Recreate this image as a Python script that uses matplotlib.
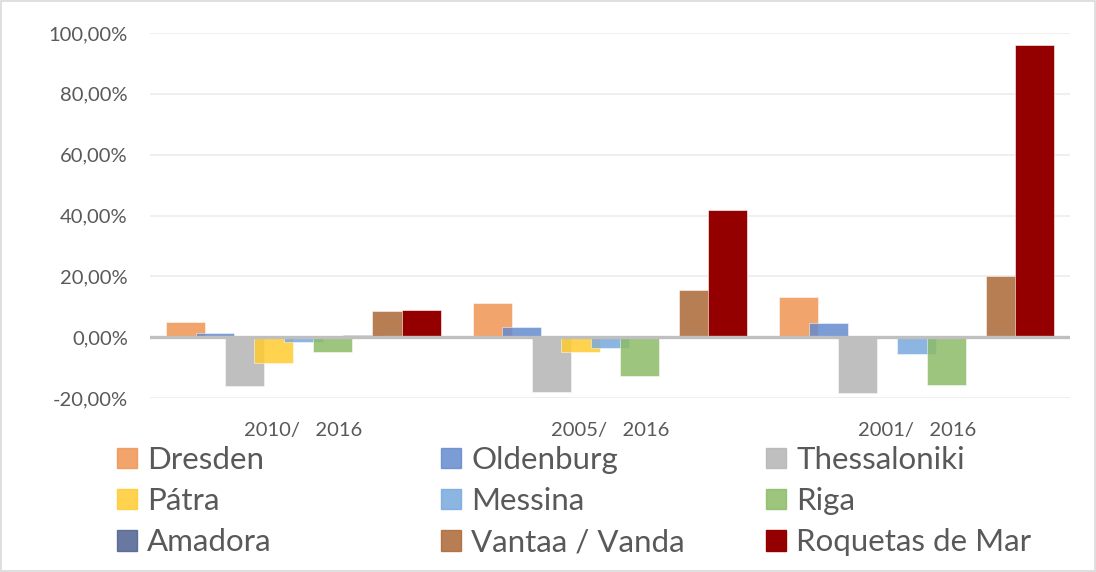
import matplotlib.pyplot as plt
import matplotlib.patches as mpatches
import numpy as np

plt.rcParams['font.family'] = ['Lato', 'DejaVu Sans']

# dane (zmiana w %)
okresy = ['2010/   2016', '2005/   2016', '2001/   2016']
miasta = ['Dresden', 'Oldenburg', 'Thessaloniki', 'Pátra', 'Messina', 'Riga',
          'Amadora', 'Vantaa / Vanda', 'Roquetas de Mar']
dresden = [5.1, 11.3, 13.3]
oldenburg = [1.5, 3.2, 4.7]
thessaloniki = [-16.2, -18.0, -18.4]
patra = [-8.6, -5.0, 0.0]
messina = [-1.7, -3.4, -5.5]
riga = [-4.9, -12.8, -15.7]
amadora = [0.8, 0.0, 0.0]
vantaa = [8.6, 15.6, 20.1]
roquetas = [8.8, 41.7, 96.2]
wartosci = [dresden, oldenburg, thessaloniki, patra, messina, riga,
            amadora, vantaa, roquetas]

# kolory bazowe + przezroczystosc (jak w Excelu)
kolory = ['#F09454', '#648BCE', '#B4B4B4', '#FFCB30', '#78AADC', '#8CBB68',
          '#4E618F', '#AC6735', '#940000']
alfy = [0.85] * 8 + [1.0]

fig = plt.figure(figsize=(10.96, 5.72), dpi=100)
ax = fig.add_axes([150 / 1096, 1 - 398 / 572, 920 / 1096, 365 / 572])

x = np.arange(len(okresy))
szer = 0.127
krok = 0.096
for i, (nazwa, y) in enumerate(zip(miasta, wartosci)):
    ax.bar(x + (i - 4) * krok, np.array(y) / 100, szer, color=kolory[i],
           alpha=alfy[i], label=nazwa, edgecolor='#FFFFFF', linewidth=0.4,
           zorder=2)

ax.axhline(0, color='#BFBFBF', lw=2.4, zorder=3)
ax.set_xlim(-0.5, 2.5)
ax.set_ylim(-0.2, 1.0)
ticki = np.arange(-0.2, 1.01, 0.2)
ax.set_yticks(ticki)
ax.set_yticklabels([('%.2f' % (v * 100)).replace('.', ',') + '%' for v in ticki])
ax.yaxis.grid(True, color='#EFEFEF', lw=1.4, zorder=0)
ax.set_axisbelow(True)
ax.set_xticks(x)
ax.set_xticklabels(okresy)
ax.tick_params(axis='both', length=0, colors='#595959', labelsize=14.5)
ax.tick_params(axis='x', pad=17.5)
ax.tick_params(axis='y', pad=16)
for s in ax.spines.values():
    s.set_visible(False)

# legenda w trzech kolumnach
etykiety = miasta
uchwyty = [mpatches.Patch(color=k, alpha=a) for k, a in zip(kolory, alfy)]
kolumny_x = [117, 441, 766]
for c in range(3):
    leg = fig.legend(uchwyty[c::3], etykiety[c::3], loc='upper left',
                     bbox_to_anchor=(kolumny_x[c] / 1096, 1 - 446 / 572),
                     frameon=False, fontsize=22.5, handlelength=0.64,
                     handleheight=0.64, handletextpad=0.33, labelspacing=0.42,
                     borderpad=0, borderaxespad=0)
    for t in leg.get_texts():
        t.set_color('#595959')

fig.patches.append(mpatches.Rectangle((0.001, 0.001), 0.998, 0.998,
                                      transform=fig.transFigure, fill=False,
                                      edgecolor='#D9D9D9', lw=1.2))

plt.savefig('out.png', dpi=100)
